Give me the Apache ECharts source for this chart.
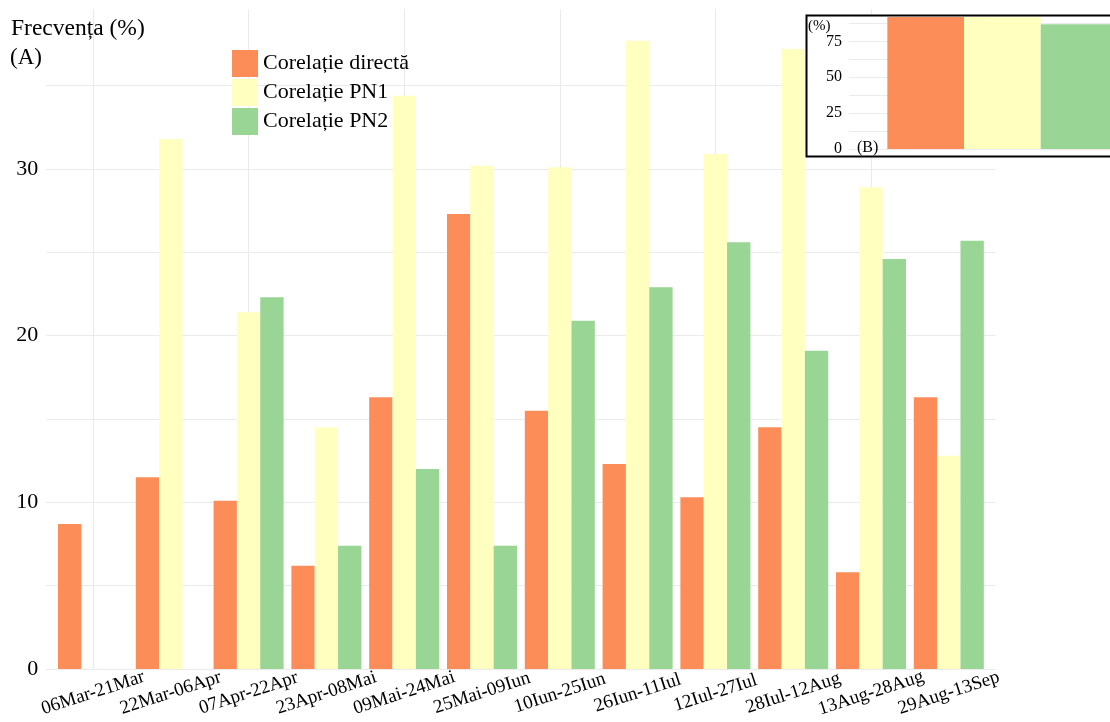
<!DOCTYPE html>
<html>
<head>
<meta charset="utf-8">
<script src="https://cdn.jsdelivr.net/npm/echarts@6/dist/echarts.min.js"></script>
<style>
  html, body { margin: 0; padding: 0; background: #fff; }
  #chart { width: 1110px; height: 722px; }
</style>
</head>
<body>
<div id="chart"></div>
<script>
// Two-week periods
const categories = ['06Mar-21Mar', '22Mar-06Apr', '07Apr-22Apr', '23Apr-08Mai', '09Mai-24Mai', '25Mai-09Iun',
  '10Iun-25Iun', '26Iun-11Iul', '12Iul-27Iul', '28Iul-12Aug', '13Aug-28Aug', '29Aug-13Sep'];
const seriesNames = ['Corelație directă', 'Corelație PN1', 'Corelație PN2'];

// Frequency (%) per period
const corelatieDirecta = [8.7, 11.5, 10.1, 6.2, 16.3, 27.3, 15.5, 12.3, 10.3, 14.5, 5.8, 16.3];
const corelatiePN1 = [null, 31.8, 21.4, 14.5, 34.4, 30.2, 30.1, 37.7, 30.9, 37.2, 28.9, 12.8];
const corelatiePN2 = [null, null, 22.3, 7.4, 12.0, 7.4, 20.9, 22.9, 25.6, 19.1, 24.6, 25.7];

// Inset (B): totals over the whole season (%)
const insetValues = [92, 92, 87];

const colors = ['#FC8D59', '#FFFFBF', '#99D594'];
const serif = '"Liberation Serif", "Times New Roman", serif';
const gridColor = '#ebebeb';
const yMax = 39.6;

const chart = echarts.init(document.getElementById('chart'), null, { renderer: 'canvas' });

const mainSeries = [corelatieDirecta, corelatiePN1, corelatiePN2].map((vals, i) => ({
  name: seriesNames[i],
  type: 'bar',
  xAxisIndex: 2,
  yAxisIndex: 2,
  data: vals,
  barWidth: '30%',
  barGap: '0%',
  itemStyle: { color: colors[i] },
  emphasis: { disabled: true },
  z: 2
}));

// inset: a single group of three dodged bars centred at x = 0
const insetSeries = insetValues.map((v, i) => ({
  name: seriesNames[i],
  type: 'bar',
  xAxisIndex: 3,
  yAxisIndex: 3,
  data: [[0, v]],
  barWidth: 76.7,
  barGap: '0%',
  itemStyle: { color: colors[i] },
  emphasis: { disabled: true },
  z: 70
}));

const option = {
  animation: false,
  backgroundColor: '#fff',
  title: [
    { text: 'Frecvența (%)', left: 11, top: 17, padding: 0,
      textStyle: { fontFamily: serif, fontSize: 23.5, fontWeight: 'normal', color: '#000' } },
    { text: '(A)', left: 10, top: 46, padding: 0,
      textStyle: { fontFamily: serif, fontSize: 23, fontWeight: 'normal', color: '#000' } },
    { text: '(%)', left: 808, top: 19, padding: 0, z: 80,
      textStyle: { fontFamily: serif, fontSize: 15, fontWeight: 'normal', color: '#000' } },
    { text: '(B)', left: 857, top: 140, padding: 0, z: 80,
      textStyle: { fontFamily: serif, fontSize: 16, fontWeight: 'normal', color: '#000' } }
  ],
  legend: {
    data: seriesNames,
    orient: 'vertical',
    left: 232,
    top: 50,
    padding: 0,
    itemWidth: 26,
    itemHeight: 27,
    itemGap: 2,
    icon: 'rect',
    selectedMode: false,
    textStyle: { fontFamily: serif, fontSize: 22, color: '#000', padding: [0, 0, 0, 0] }
  },
  graphic: [
    { type: 'rect', shape: { x: 806, y: 15.5, width: 330, height: 141 },
      style: { fill: '#fff' }, z: 50, silent: true },
    { type: 'rect', shape: { x: 806.5, y: 15.5, width: 330, height: 141 },
      style: { fill: null, stroke: '#000', lineWidth: 2 }, z: 100, silent: true }
  ],
  grid: [
    // horizontal grid lines + y labels (full panel)
    { left: 46.3, right: 114.5, top: 9, bottom: 53 },
    // vertical grid lines through category centres
    { left: 93, right: 161.2, top: 9, bottom: 53 },
    // bars
    { left: 54.1, right: 122.3, top: 9, bottom: 53 },
    // inset panel (runs to the right edge of the page)
    { left: 849, right: 0, top: 17, bottom: 573 }
  ],
  xAxis: [
    { gridIndex: 0, type: 'value', min: 0, max: 1, show: false },
    { gridIndex: 1, type: 'category', data: categories, boundaryGap: false,
      axisLine: { show: false }, axisTick: { show: false }, axisLabel: { show: false },
      splitLine: { show: true, lineStyle: { color: gridColor, width: 1.2 } } },
    { gridIndex: 2, type: 'category', data: categories, boundaryGap: true,
      axisLine: { show: false }, axisTick: { show: false }, splitLine: { show: false },
      axisLabel: { interval: 0, rotate: 18, align: 'center', verticalAlign: 'middle', margin: 24,
        fontFamily: serif, fontSize: 19, color: '#000' } },
    // one group unit = 255.6 px; panel spans -0.6 .. (right page edge)
    { gridIndex: 3, type: 'value', min: -0.6, max: 0.421, show: false }
  ],
  yAxis: [
    { gridIndex: 0, type: 'value', min: 0, max: yMax, interval: 5,
      axisLine: { show: false }, axisTick: { show: false },
      axisLabel: { margin: 8, fontFamily: serif, fontSize: 22, color: '#000',
        formatter: v => (v % 10 === 0 ? String(v) : '') },
      splitLine: { show: true, showMaxLine: false, lineStyle: { color: gridColor, width: 1.2 } } },
    { gridIndex: 1, type: 'value', min: 0, max: yMax, show: false },
    { gridIndex: 2, type: 'value', min: 0, max: yMax, show: false },
    { gridIndex: 3, type: 'value', min: 0, max: 92, interval: 12.5, z: 60,
      axisLine: { show: false }, axisTick: { show: false },
      axisLabel: { margin: 7, fontFamily: serif, fontSize: 16, color: '#000',
        formatter: v => (v % 25 === 0 ? String(v) : '') },
      splitLine: { show: true, showMaxLine: false, lineStyle: { color: gridColor, width: 1 } } }
  ],
  series: mainSeries.concat(insetSeries)
};

chart.setOption(option);
</script>
</body>
</html>
